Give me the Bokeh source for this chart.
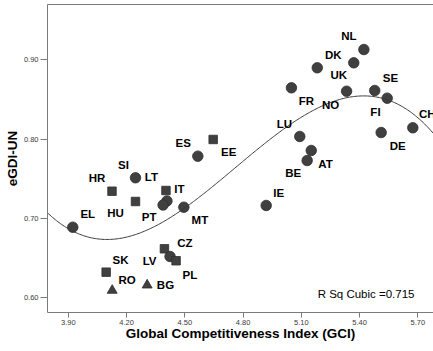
import numpy as np
from bokeh.plotting import figure
from bokeh.models import ColumnDataSource, LinearAxis, Label, FixedTicker, Range1d, PrintfTickFormatter
from bokeh.core.properties import value
from bokeh.embed import file_html
from bokeh.resources import INLINE

# ---- data ----
countries = ["EL", "HR", "SI", "LT", "HU", "PT", "IT", "MT", "ES", "EE",
             "CZ", "LV", "PL", "SK", "RO", "BG", "LU", "FR", "NO", "DK",
             "UK", "NL", "SE", "FI", "CH", "DE", "BE", "AT", "IE"]
gci = [3.923, 4.125, 4.246, 4.408, 4.246, 4.388, 4.403, 4.495, 4.567, 4.646,
       4.395, 4.424, 4.455, 4.095, 4.126, 4.306, 5.092, 5.049, 5.333, 5.182,
       5.370, 5.422, 5.478, 5.542, 5.674, 5.511, 5.130, 5.151, 4.919]
egdi = [0.6886, 0.7341, 0.7511, 0.7218, 0.7211, 0.7167, 0.7350, 0.7139, 0.7784, 0.7995,
        0.6613, 0.6516, 0.6462, 0.6318, 0.6087, 0.6154, 0.8033, 0.8648, 0.8605, 0.8901,
        0.8964, 0.9132, 0.8614, 0.8517, 0.8143, 0.8083, 0.7729, 0.7856, 0.7161]
group = ["circle", "square", "circle", "circle", "square", "circle", "square", "circle", "circle", "square",
         "square", "circle", "square", "square", "triangle", "triangle", "circle", "circle", "circle", "circle",
         "circle", "circle", "circle", "circle", "circle", "circle", "circle", "circle", "circle"]
x_ticks = [3.90, 4.20, 4.50, 4.80, 5.10, 5.40, 5.70]
y_ticks = [0.60, 0.70, 0.80, 0.90]
x_title = "Global Competitiveness Index (GCI)"
y_title = "eGDI-UN"
fit_text = "R Sq Cubic =0.715"

# ---- label placement (screen pixel offsets from each point; styling) ----
label_dx = [15, -15, -12, -15.5, -20, -14, 13.5, 16, -14.6, 15.6,
            20.5, -20.5, 13.8, 14.3, 15, 18.3, -15.3, 15, -16, 16,
            -15, -15, 15.7, -11.7, 14.4, 16.6, -14, 14.3, 12.6]
label_dy = [-13.4, -13.4, -13, -23.8, 12, 12.2, -1.7, 12.6, -13.4, 12.7,
            -5.8, 4.3, 14, -11.7, -10, 0, -12.7, 13.4, 13.3, -12.3,
            11.7, -14, -12.7, 14, -13.3, 13, 12.7, 13.3, -12.7]
marker_size = {"circle": 10.5, "square": 8.5, "triangle": 10}

W, H = 433, 351
X0, X1 = 3.7929, 5.7805
Y0, Y1 = 0.5808, 0.9701

src = ColumnDataSource(dict(
    x=gci, y=egdi, name=countries, shape=group,
    size=[marker_size[g] for g in group], dx=label_dx, dy=label_dy))

p = figure(width=W, height=H, output_backend="svg", toolbar_location=None,
           x_range=Range1d(X0, X1), y_range=Range1d(Y0, Y1),
           min_border_left=47, min_border_right=0, min_border_top=4, min_border_bottom=39)
p.background_fill_color = "white"
p.border_fill_color = "white"
p.outline_line_color = None
p.xgrid.visible = False
p.ygrid.visible = False

FONT = "Liberation Sans"
axis_col = "#7a7a7a"

for ax, ticks, tout in ((p.xaxis[0], x_ticks, 5), (p.yaxis[0], y_ticks, 7)):
    ax.ticker = FixedTicker(ticks=ticks)
    ax.formatter = PrintfTickFormatter(format="%.2f")
    ax.axis_line_color = axis_col
    ax.major_tick_line_color = axis_col
    ax.minor_tick_line_color = None
    ax.major_tick_out = tout
    ax.major_tick_in = 0
    ax.major_label_text_font = FONT
    ax.major_label_text_font_size = "7.5px"
    ax.major_label_text_color = "#3a3a3a"
    ax.major_label_standoff = 2
    ax.axis_label_text_font = FONT
    ax.axis_label_text_font_size = "13.5px"
    ax.axis_label_text_font_style = "bold"
    ax.axis_label_text_color = "black"

p.xaxis.axis_label = x_title
p.yaxis.axis_label = y_title
p.xaxis.axis_label_standoff = -2
p.yaxis.axis_label_standoff = 1

top = LinearAxis(ticker=FixedTicker(ticks=[]), major_tick_line_color=None,
                 minor_tick_line_color=None, major_label_text_font_size="0px",
                 axis_line_color=axis_col, major_tick_out=0, major_tick_in=0,
                 major_label_standoff=0)
p.add_layout(top, "above")

p.scatter(x="x", y="y", marker="shape", size="size", source=src,
          fill_color="#404040", line_color="#2e2e2e", line_width=0.8)

# cubic fit computed from the data
coef = np.polyfit(np.array(gci), np.array(egdi), 3)
xs = np.linspace(X0, X1, 300)
p.line(xs, np.polyval(coef, xs), line_color="#3a3a3a", line_width=1)

p.text(x="x", y="y", text="name", source=src, x_offset="dx", y_offset="dy",
       text_font=value(FONT), text_font_style="bold", text_font_size=value("11.5px"),
       text_align="center", text_baseline="middle", text_color="black")

p.add_layout(Label(x=X1, y=Y0, x_offset=-19, y_offset=19, text=fit_text,
                   text_font=FONT, text_font_size="11.5px", text_color="black",
                   text_align="right", text_baseline="middle"))

open("out.html", "w").write(file_html(p, INLINE))
